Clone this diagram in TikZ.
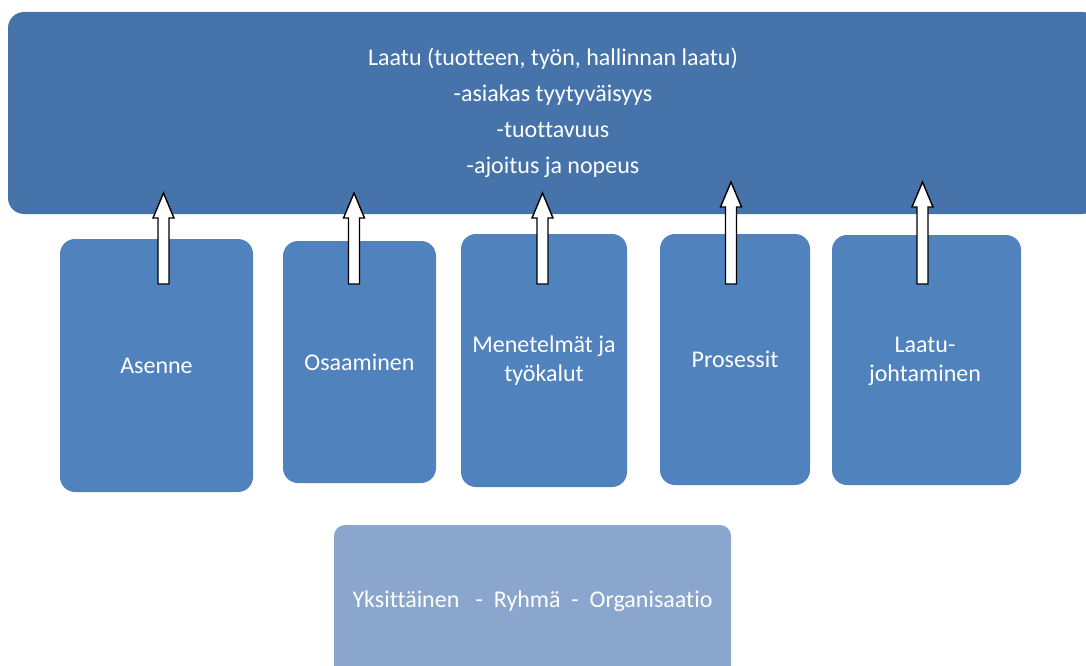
\documentclass[tikz,border=0pt]{standalone}
\usepackage{fontspec}
\setmainfont[Ligatures=NoCommon]{Carlito}
\begin{document}
\begin{tikzpicture}[x=1pt,y=-1pt,
  every node/.style={inner sep=0pt, outer sep=0pt},
  goalbox/.style={fill=goalblue, rounded corners=16pt},
  factorbox/.style={fill=factorblue, rounded corners=15pt},
  levelbox/.style={fill=levelblue, rounded corners=11pt},
  label/.style={text=white, font=\fontsize{24}{36}\selectfont, align=center},
  tightlabel/.style={label, font=\fontsize{24}{29}\selectfont},
  blockarrow/.style={draw=black, fill=white, line width=1.4pt, line join=miter},
  pics/blockup/.style={code={
    \draw[blockarrow] (-5.5,0) -- (-5.5,-#1+25) -- (-10.5,-#1+25) -- (0,-#1)
      -- (10.5,-#1+25) -- (5.5,-#1+25) -- (5.5,0) -- cycle;}}]
\definecolor{goalblue}{RGB}{70,116,170}
\definecolor{factorblue}{RGB}{80,130,190}
\definecolor{levelblue}{RGB}{139,166,205}
\useasboundingbox (0,0) rectangle (1086,666);
\begin{scope}
\clip (0,0) rectangle (1086,666);
% goal box across the top
\path[goalbox] (8,12) rectangle (1098,214);
\node[label] (goal) at (553,113) {Laatu (tuotteen, työn, hallinnan laatu)\\-asiakas tyytyväisyys\\-tuottavuus\\-ajoitus ja nopeus};
% five factor boxes
\path[factorbox] (60,239) rectangle (253,492);
\node[label] (f1) at (156.5,365.5) {Asenne};
\path[factorbox] (283,241) rectangle (436,483);
\node[label] (f2) at (359.5,362) {Osaaminen};
\path[factorbox] (461,234) rectangle (627,487);
\node[tightlabel] (f3) at (544,361) {Menetelmät ja\\työkalut};
\path[factorbox] (660,234) rectangle (810,485);
\node[label] (f4) at (735,359.5) {Prosessit};
\path[factorbox] (832,235) rectangle (1021,485);
\node[tightlabel] (f5) at (925,361) {Laatu-\\johtaminen};
% level box at the bottom
\path[levelbox] (334,525) rectangle (731,677);
\node[label] (lvl) at (532.5,601) {Yksittäinen \ \ - \ Ryhmä \ - \ Organisaatio};
% upward block arrows
\pic at (163.5,284) {blockup=91};
\pic at (354,284) {blockup=91};
\pic at (542.5,284) {blockup=91};
\pic at (731,284) {blockup=102};
\pic at (922.5,284) {blockup=102};
\end{scope}
\end{tikzpicture}
\end{document}
